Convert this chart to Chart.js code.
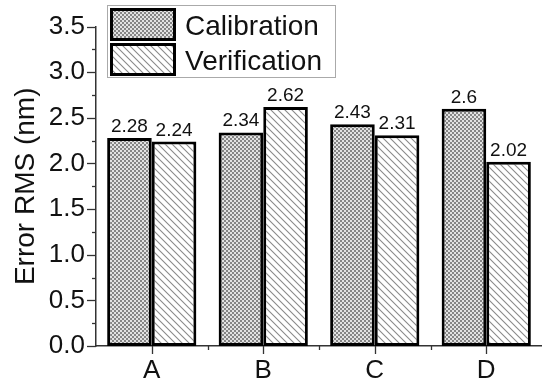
<!DOCTYPE html>
<html><head><meta charset="utf-8">
<script src="https://cdn.jsdelivr.net/npm/chart.js@4/dist/chart.umd.min.js"></script>
<style>html,body{margin:0;padding:0;background:#fff}#wrap{width:542px;height:385px}</style>
</head><body><div id="wrap"><canvas id="c" width="542" height="385"></canvas></div>
<script>
const categories = ['A','B','C','D'];
const calibration = [2.28, 2.34, 2.43, 2.6];
const verification = [2.24, 2.62, 2.31, 2.02];
const calibrationLabels = ['2.28','2.34','2.43','2.6'];
const verificationLabels = ['2.24','2.62','2.31','2.02'];
const seriesNames = ['Calibration','Verification'];
const yTicks = [0,0.5,1,1.5,2,2.5,3,3.5];

const FONT = '"Liberation Sans", Arial, sans-serif';

function checkerPattern(){
  const c = document.createElement('canvas'); c.width = 4; c.height = 4;
  const g = c.getContext('2d');
  g.fillStyle = '#e2e2e2'; g.fillRect(0,0,4,4);
  g.fillStyle = '#858585';
  g.fillRect(0,0,2,2); g.fillRect(2,2,2,2);
  return g.createPattern(c,'repeat');
}
function diagPattern(){
  const s = 7;
  const c = document.createElement('canvas'); c.width = s; c.height = s;
  const g = c.getContext('2d');
  g.fillStyle = '#fff'; g.fillRect(0,0,s,s);
  g.strokeStyle = '#8a8a8a'; g.lineWidth = 1.1;
  g.beginPath();
  g.moveTo(-1,-1); g.lineTo(s+1,s+1);
  g.moveTo(-1,s-1); g.lineTo(1,s+1);
  g.moveTo(s-1,-1); g.lineTo(s+1,1);
  g.stroke();
  return g.createPattern(c,'repeat');
}
const pCal = checkerPattern();
const pVer = diagPattern();

const overlay = {
  id: 'overlay',
  afterDatasetsDraw(chart){
    const ctx = chart.ctx;
    const ca = chart.chartArea;
    const y = chart.scales.y, x = chart.scales.x;
    ctx.save();
    // y ticks (major + minor)
    ctx.strokeStyle = '#333'; ctx.lineWidth = 1.3;
    for (let v = 0; v <= 3.5001; v += 0.25){
      const py = Math.round(y.getPixelForValue(v)) + 0.5;
      const major = Math.abs(v*2 - Math.round(v*2)) < 1e-6;
      const len = major ? 9 : 4;
      ctx.beginPath(); ctx.moveTo(ca.left - len, py); ctx.lineTo(ca.left, py); ctx.stroke();
    }
    // x ticks
    const n = categories.length;
    for (let i = 0; i < n; i++){
      const px = Math.round(x.getPixelForValue(i)) + 0.5;
      ctx.beginPath(); ctx.moveTo(px, ca.bottom); ctx.lineTo(px, ca.bottom + 8); ctx.stroke();
      if (i < n-1){
        const mx = Math.round((x.getPixelForValue(i) + x.getPixelForValue(i+1))/2) + 0.5;
        ctx.beginPath(); ctx.moveTo(mx, ca.bottom); ctx.lineTo(mx, ca.bottom + 4); ctx.stroke();
      }
    }
    // value labels
    ctx.fillStyle = '#111';
    ctx.font = '19px ' + FONT;
    ctx.textAlign = 'center'; ctx.textBaseline = 'alphabetic';
    const labs = [calibrationLabels, verificationLabels];
    chart.data.datasets.forEach((ds, di) => {
      const meta = chart.getDatasetMeta(di);
      meta.data.forEach((bar, i) => {
        ctx.fillText(labs[di][i], bar.x, bar.y - 6);
      });
    });
    // legend
    const lx = 107, ly = 5, lw = 228, lh = 72;
    ctx.fillStyle = '#fff'; ctx.fillRect(lx, ly, lw, lh);
    ctx.strokeStyle = '#aaa'; ctx.lineWidth = 1;
    ctx.strokeRect(lx + 0.5, ly + 0.5, lw, lh);
    const pats = [pCal, pVer];
    ctx.font = '28px ' + FONT;
    ctx.textAlign = 'left'; ctx.textBaseline = 'alphabetic';
    for (let k = 0; k < 2; k++){
      const sy = 8 + k*35;
      ctx.fillStyle = pats[k]; ctx.fillRect(111, sy, 64, 32);
      ctx.strokeStyle = '#000'; ctx.lineWidth = 3;
      ctx.strokeRect(111.5, sy + 1.5, 63, 30);
      ctx.fillStyle = '#111';
      ctx.fillText(seriesNames[k], 185, sy + 27);
    }
    ctx.restore();
  }
};

new Chart(document.getElementById('c'), {
  type: 'bar',
  data: {
    labels: categories,
    datasets: [
      { label: seriesNames[0], data: calibration, backgroundColor: pCal, borderColor: '#000', borderWidth: 3, borderSkipped: false },
      { label: seriesNames[1], data: verification, backgroundColor: pVer, borderColor: '#000', borderWidth: 3, borderSkipped: false }
    ]
  },
  options: {
    responsive: false, animation: false, devicePixelRatio: 1,
    layout: { padding: { top: 20, right: -2, left: 0, bottom: 0 } },
    datasets: { bar: { barPercentage: 1, categoryPercentage: 0.8 } },
    plugins: { legend: { display: false }, tooltip: { enabled: false } },
    scales: {
      x: {
        grid: { display: false, drawTicks: false },
        border: { display: true, color: '#333', width: 1.5 },
        ticks: { color: '#111', font: { family: FONT, size: 26 }, padding: 9 },
        afterFit(s){ s.height = 39; }
      },
      y: {
        min: 0, max: 3.5,
        afterBuildTicks(s){ s.ticks = yTicks.map(v => ({ value: v })); },
        grid: { display: false, drawTicks: false },
        border: { display: true, color: '#333', width: 1.5 },
        ticks: { color: '#111', font: { family: FONT, size: 26 }, padding: 11,
                 callback: v => Number(v).toFixed(1) },
        title: { display: true, text: 'Error RMS (nm)', color: '#111', font: { family: FONT, size: 28 }, padding: { top: 9, bottom: 0 } },
        afterFit(s){ s.width = 96; }
      }
    }
  },
  plugins: [overlay]
});
</script>
</body></html>
